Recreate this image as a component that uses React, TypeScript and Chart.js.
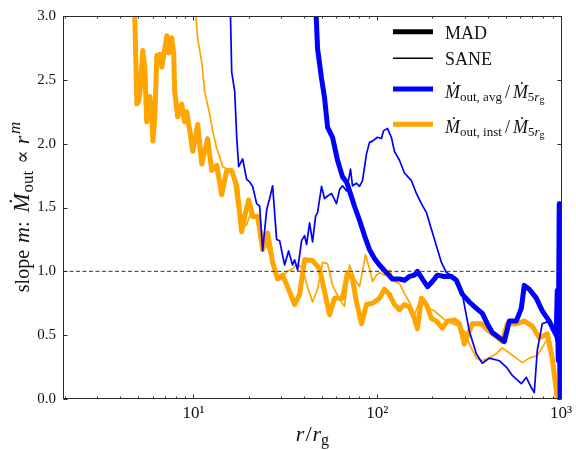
import React, { useEffect, useRef } from 'react';
import { Chart, registerables } from 'chart.js';

Chart.register(...registerables);

const FONT = "'Liberation Serif', 'DejaVu Serif', serif";

// r / r_g  vs  slope m
const madAvg: [number, number][] = [
  [45.62, 3.3], [47.37, 2.745], [49.8, 2.51], [51.7, 2.36], [53.68, 2.13], [57.15, 2.05], [60.84, 1.87],
  [64.78, 1.74], [68.1, 1.7], [70.7, 1.63], [75.26, 1.51], [80.13, 1.4], [85.3, 1.28], [90.82, 1.17],
  [96.69, 1.1], [102.9, 1.05], [112.3, 0.99], [121.0, 0.94], [132.2, 0.94], [140.7, 0.93], [149.8, 0.96],
  [159.5, 0.97], [165.6, 1.0], [176.3, 0.94], [187.7, 0.88], [199.8, 0.92], [212.7, 0.97], [232.1, 0.96],
  [253.4, 0.96], [269.7, 0.93], [290.8, 0.82], [317.4, 0.76], [346.4, 0.71], [373.5, 0.67], [397.6, 0.59],
  [423.3, 0.52], [462.1, 0.48], [491.9, 0.45], [523.6, 0.61], [571.5, 0.61], [608.5, 0.71], [631.8, 0.89],
  [672.6, 0.86], [734.1, 0.79], [791.4, 0.69], [863.9, 0.61], [919.6, 0.53], [943.0, 0.5], [954.8, 0.85],
  [966.9, 0.3], [979.0, 1.53], [985.0, 0.3], [991.3, 0.0],
];

const saneAvg: [number, number][] = [
  [15.75, 3.3], [16.15, 2.56], [16.77, 2.41], [17.2, 2.05], [17.63, 1.82], [18.53, 1.88], [19.48, 1.72],
  [20.23, 1.7], [21.0, 1.665], [22.08, 1.53], [22.93, 1.51], [23.8, 1.16], [25.02, 1.48], [25.98, 1.57],
  [26.97, 1.67], [28.35, 1.25], [29.44, 1.24], [31.33, 1.05], [32.94, 1.16], [34.64, 1.05], [35.51, 1.09],
  [36.87, 1.01], [38.78, 1.24], [40.26, 1.28], [41.28, 1.21], [42.86, 1.38], [44.5, 1.23], [46.2, 1.43],
  [47.37, 1.46], [49.8, 1.665], [51.7, 1.57], [53.68, 1.59], [56.44, 1.61], [60.08, 1.53], [62.39, 1.64],
  [64.78, 1.67], [68.1, 1.63], [71.59, 1.8], [73.4, 1.67], [77.17, 1.69], [80.13, 1.665], [83.19, 1.71],
  [87.46, 1.92], [90.82, 2.01], [94.3, 2.02], [100.4, 2.05], [105.5, 2.04], [108.2, 2.1], [113.7, 2.12],
  [119.5, 2.05], [124.1, 1.94], [132.2, 1.87], [140.7, 1.77], [153.6, 1.71], [163.5, 1.61], [174.1, 1.53],
  [185.3, 1.46], [197.3, 1.33], [210.0, 1.2], [223.6, 1.07], [238.0, 0.99], [253.4, 0.97], [269.7, 0.94],
  [290.8, 0.82], [317.4, 0.53], [346.4, 0.355], [373.5, 0.28], [407.7, 0.32], [462.1, 0.3], [504.3, 0.25],
  [543.6, 0.185], [608.5, 0.12], [647.8, 0.17], [689.6, 0.09], [716.0, 0.05], [743.4, 0.38], [791.4, 0.59],
  [863.9, 0.61], [919.6, 0.53], [943.0, 0.45],
];

const madInst: [number, number][] = [
  [4.74, 3.3], [4.92, 2.31], [5.04, 2.33], [5.11, 2.4], [5.3, 2.73], [5.43, 2.6], [5.57, 2.17], [5.71, 2.3],
  [5.79, 2.37], [5.94, 2.2], [6.01, 2.02], [6.16, 2.2], [6.32, 2.69], [6.56, 2.7], [6.73, 2.6], [6.9, 2.7],
  [7.17, 2.845], [7.35, 2.71], [7.62, 2.83], [7.81, 2.7], [7.9, 2.41], [8.21, 2.21], [8.42, 2.25], [8.63, 2.31],
  [8.96, 2.17], [9.19, 2.25], [9.55, 2.1], [9.91, 1.94], [10.55, 2.15], [11.09, 1.84], [11.95, 2.04],
  [12.57, 1.79], [13.39, 1.83], [14.25, 1.6], [15.17, 1.79], [16.15, 1.79], [17.2, 1.67], [18.3, 1.31],
  [19.0, 1.43], [19.98, 1.56], [21.0, 1.43], [22.36, 1.43], [23.8, 1.17], [25.34, 1.3], [26.97, 1.07],
  [28.71, 0.94], [30.56, 0.97], [33.37, 0.84], [35.51, 0.74], [37.82, 0.82], [40.26, 1.09], [44.5, 1.085],
  [48.57, 1.02], [51.7, 0.84], [55.05, 0.66], [58.6, 0.79], [64.78, 0.79], [68.96, 0.99], [73.4, 0.94],
  [77.17, 0.76], [82.16, 0.59], [87.46, 0.74], [94.3, 0.75], [102.9, 0.79], [109.5, 0.86], [116.6, 0.82],
  [124.1, 0.74], [132.2, 0.7], [140.7, 0.74], [149.8, 0.72], [159.5, 0.63], [165.6, 0.55], [174.1, 0.79],
  [185.3, 0.74], [197.3, 0.63], [210.0, 0.61], [226.4, 0.555], [241.0, 0.61], [263.1, 0.62], [280.1, 0.59],
  [298.1, 0.43], [309.5, 0.49], [329.5, 0.59], [368.8, 0.59], [407.7, 0.53], [445.0, 0.49], [479.7, 0.45],
  [510.7, 0.59], [571.5, 0.59], [631.8, 0.61], [698.3, 0.57], [762.3, 0.48], [842.5, 0.51], [896.9, 0.32],
  [943.0, 0.07], [954.8, 0.0],
];

const saneInst: [number, number][] = [
  [10.2, 3.1], [10.41, 2.92], [10.55, 2.82], [11.09, 2.64], [11.51, 2.41], [12.26, 2.23], [12.73, 2.1],
  [13.39, 1.96], [13.9, 1.9], [14.43, 1.82], [15.36, 1.8], [16.35, 1.77], [17.2, 1.53], [18.3, 1.33],
  [19.48, 1.365], [20.74, 1.48], [21.8, 1.43], [22.93, 1.36], [25.02, 1.2], [26.97, 1.07], [29.44, 0.94],
  [32.13, 0.995], [34.64, 1.02], [36.87, 1.06], [39.27, 1.02], [41.7, 0.88], [44.5, 0.76], [47.37, 0.86],
  [50.43, 1.07], [53.68, 1.06], [57.15, 0.89], [62.39, 0.78], [66.42, 0.725], [70.7, 1.05], [75.26, 0.94],
  [80.13, 0.88], [86.37, 1.13], [90.82, 1.02], [94.3, 0.92], [99.14, 0.97], [102.9, 0.99], [109.5, 0.97],
  [116.6, 1.01], [124.1, 0.92], [132.2, 0.905], [140.7, 0.825], [149.8, 0.76], [159.5, 0.66], [169.8, 0.76],
  [180.8, 0.74], [192.4, 0.71], [204.8, 0.69], [238.0, 0.61], [280.1, 0.57], [298.1, 0.53], [317.4, 0.43],
  [346.4, 0.32], [368.8, 0.3], [407.7, 0.32], [445.0, 0.355], [479.7, 0.4], [523.6, 0.36], [571.5, 0.32],
  [616.2, 0.285], [672.6, 0.32], [743.4, 0.34], [811.4, 0.43], [863.9, 0.49], [896.9, 0.38], [931.2, 0.12],
  [943.0, 0.0],
];

const referenceSlope = 1.0;
const xMin = 1.95;
const xMax = 1012;
const yMin = 0;
const yMax = 3;
const yStep = 0.5;
const xTickValues = [10, 100, 1000];
const xTickLabels = ['10¹', '10²', '10³'];
const xMinorValues = [2, 3, 4, 5, 6, 7, 8, 9, 20, 30, 40, 50, 60, 70, 80, 90, 200, 300, 400, 500, 600, 700, 800, 900];

type Seg = { t: string; size: number; italic?: boolean; dy?: number; gap?: number };

const yTitleSegs: Seg[] = [
  { t: 'slope', size: 20, gap: 7 },
  { t: 'm', size: 22, italic: true },
  { t: ':', size: 20, gap: 9 },
  { t: 'Ṁ', size: 23, italic: true, gap: 1 },
  { t: 'out', size: 17, dy: 4, gap: 7 },
  { t: '∝', size: 20, gap: 6 },
  { t: 'r', size: 22, italic: true, gap: 1.5 },
  { t: 'm', size: 17, italic: true, dy: -9 },
];

const xTitleSegs: Seg[] = [
  { t: 'r', size: 22, italic: true, gap: 1 },
  { t: '/', size: 22, gap: 1 },
  { t: 'r', size: 22, italic: true },
  { t: 'g', size: 16, dy: 4 },
];

const legendItems: { segs: Seg[]; color: string; width: number }[] = [
  { segs: [{ t: 'MAD', size: 18 }], color: '#000000', width: 5 },
  { segs: [{ t: 'SANE', size: 18 }], color: '#000000', width: 1.6 },
  {
    segs: [
      { t: 'Ṁ', size: 18, italic: true },
      { t: 'out, avg', size: 13, dy: 3, gap: 3 },
      { t: '/', size: 18, gap: 3 },
      { t: 'Ṁ', size: 18, italic: true },
      { t: '5', size: 13, dy: 3 },
      { t: 'r', size: 13, italic: true, dy: 3 },
      { t: 'g', size: 10, dy: 5 },
    ],
    color: '#0000ff',
    width: 5,
  },
  {
    segs: [
      { t: 'Ṁ', size: 18, italic: true },
      { t: 'out, inst', size: 13, dy: 3, gap: 3 },
      { t: '/', size: 18, gap: 3 },
      { t: 'Ṁ', size: 18, italic: true },
      { t: '5', size: 13, dy: 3 },
      { t: 'r', size: 13, italic: true, dy: 3 },
      { t: 'g', size: 10, dy: 5 },
    ],
    color: '#ffa500',
    width: 5,
  },
];

function segFont(s: Seg) {
  return `${s.italic ? 'italic ' : ''}${s.size}px ${FONT}`;
}

function richWidth(ctx: CanvasRenderingContext2D, segs: Seg[]) {
  let w = 0;
  for (const s of segs) {
    ctx.font = segFont(s);
    w += ctx.measureText(s.t).width + (s.gap ?? 0);
  }
  return w;
}

function drawRich(ctx: CanvasRenderingContext2D, segs: Seg[], x: number, y: number, align: 'left' | 'center') {
  let cx = align === 'center' ? x - richWidth(ctx, segs) / 2 : x;
  ctx.textAlign = 'left';
  ctx.textBaseline = 'alphabetic';
  for (const s of segs) {
    ctx.font = segFont(s);
    ctx.fillText(s.t, cx, y + (s.dy ?? 0));
    cx += ctx.measureText(s.t).width + (s.gap ?? 0);
  }
}

const overlay = {
  id: 'overlay',
  afterDraw(chart: any) {
    const { ctx, chartArea: a, scales } = chart;
    const xs = scales.x;
    const ys = scales.y;
    const L = Math.round(a.left) + 0.5;
    const R = Math.round(a.right) - 0.5;
    const T = Math.round(a.top) + 0.5;
    const B = Math.round(a.bottom) - 0.5;
    ctx.save();
    ctx.strokeStyle = '#2b2b2b';
    ctx.lineWidth = 1;
    ctx.setLineDash([]);
    ctx.strokeRect(L, T, R - L, B - T);
    ctx.beginPath();
    for (let v = yMin; v <= yMax + 1e-9; v += yStep) {
      const y = Math.round(ys.getPixelForValue(v)) + 0.5;
      ctx.moveTo(L, y); ctx.lineTo(L + 4, y);
      ctx.moveTo(R, y); ctx.lineTo(R - 4, y);
    }
    for (const v of xTickValues) {
      const x = Math.round(xs.getPixelForValue(v)) + 0.5;
      ctx.moveTo(x, B); ctx.lineTo(x, B - 4);
      ctx.moveTo(x, T); ctx.lineTo(x, T + 4);
    }
    for (const v of xMinorValues) {
      const x = Math.round(xs.getPixelForValue(v)) + 0.5;
      ctx.moveTo(x, B); ctx.lineTo(x, B - 2);
      ctx.moveTo(x, T); ctx.lineTo(x, T + 2);
    }
    ctx.stroke();

    ctx.fillStyle = '#111111';
    drawRich(ctx, xTitleSegs, (a.left + a.right) / 2, 441, 'center');
    ctx.save();
    ctx.translate(28.5, 207);
    ctx.rotate(-Math.PI / 2);
    drawRich(ctx, yTitleSegs, 0, 0, 'center');
    ctx.restore();

    const rowsY = [31.7, 58.3, 89, 124.3];
    const baseY = [38.5, 64.8, 97.5, 132.5];
    legendItems.forEach((it, i) => {
      ctx.strokeStyle = it.color;
      ctx.lineWidth = it.width;
      ctx.lineCap = 'butt';
      ctx.beginPath();
      ctx.moveTo(393, rowsY[i]);
      ctx.lineTo(433, rowsY[i]);
      ctx.stroke();
      ctx.fillStyle = '#111111';
      drawRich(ctx, it.segs, 445, baseY[i], 'left');
    });
    ctx.restore();
  },
};

export default function App() {
  const ref = useRef<HTMLCanvasElement>(null);
  useEffect(() => {
    document.body.style.margin = '0';
    const canvas = ref.current!;
    const mk = (d: [number, number][], color: string, w: number, order: number) => ({
      data: d.map(([x, y]) => ({ x, y })),
      borderColor: color,
      backgroundColor: color,
      borderWidth: w,
      pointRadius: 0,
      tension: 0,
      fill: false,
      order,
      borderJoinStyle: 'round' as const,
      borderCapStyle: 'butt' as const,
    });
    const chart = new Chart(canvas, {
      type: 'line',
      data: {
        datasets: [
          { ...mk([[xMin, referenceSlope], [xMax, referenceSlope]], '#333333', 1, 0), borderDash: [4, 2.5] },
          mk(saneAvg, '#0000ff', 1.7, 1),
          mk(madAvg, '#0000ff', 5, 2),
          mk(saneInst, '#ffa500', 1.7, 3),
          mk(madInst, '#ffa500', 5, 4),
        ],
      },
      options: {
        animation: false,
        responsive: false,
        devicePixelRatio: 1,
        layout: { padding: { top: 10, right: 13, left: 0, bottom: 0 } },
        plugins: { legend: { display: false }, tooltip: { enabled: false } },
        scales: {
          x: {
            type: 'logarithmic',
            min: xMin,
            max: xMax,
            grid: { display: false, drawTicks: false },
            border: { display: false },
            afterBuildTicks: (s: any) => {
              s.ticks = xTickValues.map((v) => ({ value: v, major: true }));
            },
            afterFit: (s: any) => {
              s.height = 51;
            },
            ticks: {
              autoSkip: false,
              maxRotation: 0,
              padding: 4,
              color: '#111111',
              font: { family: FONT, size: 17 },
              callback: (v: any) => {
                const i = xTickValues.indexOf(Number(v));
                return i >= 0 ? xTickLabels[i] : '';
              },
            },
          },
          y: {
            min: yMin,
            max: yMax,
            grid: { display: false, drawTicks: false },
            border: { display: false },
            afterFit: (s: any) => {
              s.width = 63;
            },
            ticks: {
              stepSize: yStep,
              padding: 7,
              color: '#111111',
              font: { family: FONT, size: 15 },
              callback: (v: any) => Number(v).toFixed(1),
            },
          },
        },
      },
      plugins: [overlay],
    } as any);
    return () => chart.destroy();
  }, []);
  return (
    <div style={{ width: 576, height: 450 }}>
      <canvas ref={ref} width={576} height={450} style={{ display: 'block' }} />
    </div>
  );
}
